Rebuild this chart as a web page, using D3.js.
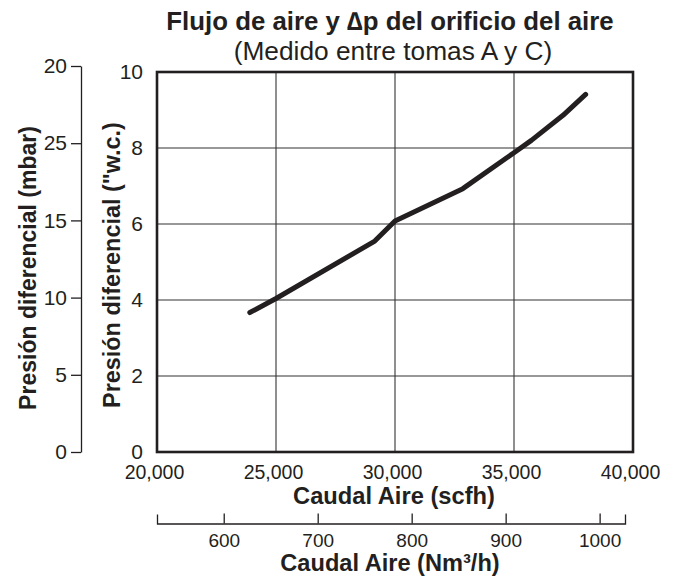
<!DOCTYPE html>
<html>
<head>
<meta charset="utf-8">
<script src="https://cdn.jsdelivr.net/npm/d3@7"></script>
<style>
  html, body { margin: 0; padding: 0; background: #fff; }
  svg text { font-family: "Liberation Sans", Arial, Helvetica, sans-serif; fill: #231f20; }
</style>
</head>
<body>
<div id="chart"></div>
<script>
/* =========================
   DONNÉES
   ========================= */

// courbe (scfh -> "w.c.)
const flowScfh = [23900, 25000, 29150, 30000, 32850, 35030, 35730, 37060, 38010];
const dpInwc   = [3.67, 4.04, 5.55, 6.08, 6.93, 7.89, 8.20, 8.86, 9.41];

const scfhTicks = [20000, 25000, 30000, 35000, 40000];
const inwcTicks = [0, 2, 4, 6, 8, 10];
const mbarTicks = [0, 5, 10, 15, 20, 25];
const mbarLabels = ["0", "5", "10", "15", "25", "20"]; // tel quel sur l'original
const nm3Ticks = [600, 700, 800, 900, 1000];

/* =========================
   CONFIGURATION
   ========================= */

const WIDTH = 679;
const HEIGHT = 576;
const PLOT = { left: 157, right: 633, top: 72, bottom: 452 };
const INK = "#231f20";

/* =========================
   ÉCHELLES
   ========================= */

const x = d3.scaleLinear().domain([20000, 40000]).range([PLOT.left, PLOT.right]);
const y = d3.scaleLinear().domain([0, 10]).range([PLOT.bottom, PLOT.top]);
const yMbar = d3.scaleLinear().domain([0, 25]).range([452, 66]);
const xNm3 = d3.scaleLinear().domain([529, 1027]).range([157, 625]);

/* =========================
   SVG
   ========================= */

const svg = d3.select("#chart")
  .append("svg")
  .attr("width", WIDTH)
  .attr("height", HEIGHT);

svg.append("rect")
  .attr("width", WIDTH)
  .attr("height", HEIGHT)
  .attr("fill", "#fff");

// Titres
svg.append("text")
  .attr("x", 390)
  .attr("y", 30)
  .attr("text-anchor", "middle")
  .style("font-size", "25.8px")
  .style("font-weight", "bold")
  .text("Flujo de aire y ∆p del orificio del aire");

svg.append("text")
  .attr("x", 393)
  .attr("y", 60)
  .attr("text-anchor", "middle")
  .style("font-size", "26.3px")
  .text("(Medido entre tomas A y C)");

/* =========================
   GRILLE
   ========================= */

const gGrid = svg.append("g").attr("class", "grid");

gGrid.selectAll(".vline")
  .data(scfhTicks.slice(1, -1))
  .enter()
  .append("line")
  .attr("x1", d => x(d))
  .attr("x2", d => x(d))
  .attr("y1", PLOT.top)
  .attr("y2", PLOT.bottom)
  .attr("stroke", "#333")
  .attr("stroke-width", 1.1);

gGrid.selectAll(".hline")
  .data(inwcTicks.slice(1, -1))
  .enter()
  .append("line")
  .attr("x1", PLOT.left)
  .attr("x2", PLOT.right)
  .attr("y1", d => y(d))
  .attr("y2", d => y(d))
  .attr("stroke", "#333")
  .attr("stroke-width", 1.1);

/* =========================
   AXES
   ========================= */

function styleTicks(g, size) {
  g.selectAll("text")
    .style("font-size", size)
    .attr("fill", INK);
  g.attr("font-family", null).attr("font-size", null);
}

// axe scfh (sans traits)
const gX = svg.append("g")
  .attr("transform", `translate(0,${PLOT.bottom})`)
  .call(d3.axisBottom(x).tickValues(scfhTicks).tickFormat(d3.format(",")).tickSize(0).tickPadding(13));
gX.select(".domain").remove();
gX.selectAll("text").attr("dx", "-3");
styleTicks(gX, "19.5px");

// axe "w.c.
const gY = svg.append("g")
  .attr("transform", `translate(${PLOT.left},0)`)
  .call(d3.axisLeft(y).tickValues(inwcTicks).tickSize(0).tickPadding(14));
gY.select(".domain").remove();
gY.selectAll("text").attr("dy", "0.3em");
styleTicks(gY, "21px");

// axe mbar
const gMbar = svg.append("g")
  .attr("transform", "translate(81,0)")
  .call(d3.axisLeft(yMbar).tickValues(mbarTicks)
    .tickFormat((d, i) => mbarLabels[i])
    .tickSize(10).tickSizeOuter(0).tickPadding(4));
gMbar.selectAll("path, line").attr("stroke", INK).attr("stroke-width", 1.3);
styleTicks(gMbar, "21px");

// axe Nm³/h (traits vers le haut)
const gNm3 = svg.append("g")
  .attr("transform", "translate(0,523.5)")
  .call(d3.axisBottom(xNm3).tickValues(nm3Ticks).tickFormat(d3.format("d"))
    .tickSize(-10).tickSizeOuter(-9).tickPadding(10));
gNm3.selectAll("path, line").attr("stroke", INK).attr("stroke-width", 1.3);
styleTicks(gNm3, "19px");

// titres d'axes
svg.append("text")
  .attr("x", 394)
  .attr("y", 504)
  .attr("text-anchor", "middle")
  .style("font-size", "23.7px")
  .style("font-weight", "bold")
  .text("Caudal Aire (scfh)");

svg.append("text")
  .attr("x", 390)
  .attr("y", 571)
  .attr("text-anchor", "middle")
  .style("font-size", "23.6px")
  .style("font-weight", "bold")
  .text("Caudal Aire (Nm³/h)");

svg.append("text")
  .attr("transform", "translate(120,265) rotate(-90)")
  .attr("text-anchor", "middle")
  .style("font-size", "23.4px")
  .style("font-weight", "bold")
  .text("Presión diferencial (\"w.c.)");

svg.append("text")
  .attr("transform", "translate(36,268) rotate(-90)")
  .attr("text-anchor", "middle")
  .style("font-size", "23px")
  .style("font-weight", "bold")
  .text("Presión diferencial (mbar)");

/* =========================
   COURBE & CADRE
   ========================= */

const line = d3.line()
  .x((d, i) => x(flowScfh[i]))
  .y(d => y(d));

svg.append("path")
  .datum(dpInwc)
  .attr("d", line)
  .attr("fill", "none")
  .attr("stroke", INK)
  .attr("stroke-width", 5)
  .attr("stroke-linecap", "round")
  .attr("stroke-linejoin", "round");

svg.append("rect")
  .attr("x", PLOT.left)
  .attr("y", PLOT.top)
  .attr("width", PLOT.right - PLOT.left)
  .attr("height", PLOT.bottom - PLOT.top)
  .attr("fill", "none")
  .attr("stroke", INK)
  .attr("stroke-width", 2.6);
</script>
</body>
</html>
